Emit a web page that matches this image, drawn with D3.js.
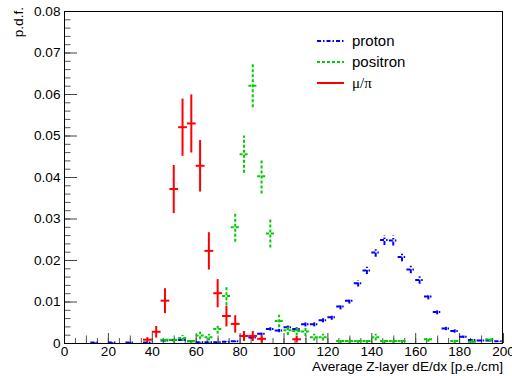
<!DOCTYPE html>
<html><head><meta charset="utf-8">
<script src="https://cdn.jsdelivr.net/npm/d3@7"></script>
<style>html,body{margin:0;padding:0;background:#fff;} svg{display:block;font-family:"Liberation Sans",Arial,sans-serif;}</style>
</head><body><svg id="c" width="512" height="376"></svg>
<script>
// ---- data ----
const xTickLabels = [0,20,40,60,80,100,120,140,160,180,200];
const yTickLabels = [0,0.01,0.02,0.03,0.04,0.05,0.06,0.07,0.08];
const seriesNames = ["proton","positron","\u03bc/\u03c0"];

const protonCenters = [14,22,30,38,46,50,54,58,62,66,70,74,78,82,86,90,94,98,102,106,110,114,118,122,126,130,134,138,142,146,150,154,158,162,166,170,174,178,182,186,190,194,198];
const protonValues  = [0.0001,0.0001,0.0001,0.0001,0.0006,0.0007,0.0007,0.0004,0.0002,0.0002,0.0002,0.0003,0.0004,0.0017,0.0013,0.0022,0.0034,0.0030,0.0038,0.0034,0.0045,0.0045,0.0055,0.0062,0.0088,0.0102,0.0144,0.0175,0.0218,0.0248,0.0247,0.0207,0.0177,0.0152,0.0112,0.0075,0.0035,0.0029,0.0015,0.0007,0.0006,0.0006,0.0004];
const protonErrors  = [0.0001,0.0001,0.0001,0.0001,0.0002,0.0002,0.0002,0.0002,0.0001,0.0001,0.0001,0.0001,0.0002,0.0003,0.0003,0.0003,0.0004,0.0004,0.0004,0.0004,0.0005,0.0005,0.0005,0.0006,0.0007,0.0007,0.0008,0.0009,0.0010,0.0012,0.0012,0.0010,0.0009,0.0009,0.0007,0.0006,0.0004,0.0004,0.0003,0.0002,0.0002,0.0002,0.0001];

const positronCenters = [46,50,54,58,62,66,70,74,78,82,86,90,94,98,102,106,110,114,118,126,130,134,138,142,146,150,154,166,178,186,194];
const positronValues  = [0.0008,0.0008,0.0012,0.0005,0.0018,0.0014,0.0034,0.0113,0.0279,0.0455,0.0620,0.0402,0.0264,0.0053,0.0031,0.0029,0.0028,0.0014,0.0014,0.0005,0.0005,0.0005,0.0005,0.0014,0.0005,0.0005,0.0005,0.0009,0.0005,0.0003,0.0009];
const positronErrors  = [0.0006,0.0006,0.0007,0.0005,0.0009,0.0008,0.0012,0.0022,0.0035,0.0045,0.0052,0.0042,0.0034,0.0015,0.0012,0.0011,0.0011,0.0008,0.0008,0.0005,0.0005,0.0005,0.0005,0.0008,0.0005,0.0005,0.0005,0.0006,0.0005,0.0004,0.0006];

const muPiCenters = [38,42,46,50,54,58,62,66,70,74,78,82,86,90,106];
const muPiValues  = [0.0008,0.0027,0.0102,0.0371,0.0520,0.0529,0.0427,0.0222,0.0120,0.0065,0.0046,0.0017,0.0017,0.0010,0.0009];
const muPiErrors  = [0.0006,0.0014,0.0030,0.0058,0.0069,0.0070,0.0062,0.0045,0.0034,0.0025,0.0021,0.0012,0.0012,0.0009,0.0008];

const binHalfWidth = 2;

// ---- layout ----
const W=512,H=376,L=64,R=503,T=11,B=343;
const x = d3.scaleLinear().domain([0,200]).range([L,R]);
const y = d3.scaleLinear().domain([0,0.08]).range([B,T]);
const svg = d3.select("#c");
svg.append("rect").attr("width",W).attr("height",H).attr("fill","#fff");

svg.append("defs").append("clipPath").attr("id","clip")
  .append("rect").attr("x",L).attr("y",T).attr("width",R-L).attr("height",B-T);

function axisLayer(axis, tx, ty, col){
  const g = svg.append("g").attr("transform",`translate(${tx},${ty})`).call(axis);
  g.select(".domain").remove();
  g.selectAll("text").attr("font-size",13.6).attr("font-family","Liberation Sans, Arial, sans-serif").attr("fill","#000");
  g.selectAll("line").attr("stroke",col||"#000");
  return g;
}
// x axis ticks
axisLayer(d3.axisBottom(x).tickValues(d3.range(0,201,5)).tickSize(-5).tickFormat(""),0,B,"#555");
axisLayer(d3.axisBottom(x).tickValues(d3.range(10,201,20)).tickSize(-7.5).tickFormat(""),0,B,"#555");
axisLayer(d3.axisBottom(x).tickValues(xTickLabels).tickSize(-10).tickPadding(3).tickFormat(d3.format("d")),0,B,"#444");
// y axis ticks
axisLayer(d3.axisLeft(y).tickValues(d3.range(0,41,1).map(i=>i*0.002)).tickSize(-6.5).tickFormat(""),L,0,"#555");
axisLayer(d3.axisLeft(y).tickValues(yTickLabels).tickSize(-13).tickPadding(3.5).tickFormat(d=>d===0?"0":d.toFixed(2)),L,0,"#444");

// frame
svg.append("rect").attr("x",L+0.5).attr("y",T+0.5).attr("width",R-L-1).attr("height",B-T)
  .attr("fill","none").attr("stroke","#000").attr("stroke-width",1);

// series
function drawSeries(centers, values, errors, color, dash, width){
  const g = svg.append("g").attr("clip-path","url(#clip)")
    .attr("stroke",color).attr("stroke-width",width).attr("fill","none");
  if(dash) g.attr("stroke-dasharray",dash);
  centers.forEach((c,i)=>{
    const v = values[i], e = errors[i];
    g.append("line").attr("x1",x(c-binHalfWidth)).attr("x2",x(c+binHalfWidth)).attr("y1",y(v)).attr("y2",y(v));
    g.append("line").attr("x1",x(c)).attr("x2",x(c)).attr("y1",y(Math.max(0,v-e))).attr("y2",y(v+e));
  });
}
const colors = ["#0000ff","#00cc00","#ff0000"];
const dashes = ["4,2,1.5,2","3,2",null];
drawSeries(protonCenters, protonValues, protonErrors, colors[0], dashes[0], 2);
drawSeries(positronCenters, positronValues, positronErrors, colors[1], dashes[1], 2);
drawSeries(muPiCenters, muPiValues, muPiErrors, colors[2], dashes[2], 2);

// legend
const leg = svg.append("g");
const rows = [41,62,83];
seriesNames.forEach((n,i)=>{
  const l = leg.append("line").attr("x1",317).attr("x2",344).attr("y1",rows[i]).attr("y2",rows[i])
    .attr("stroke",colors[i]).attr("stroke-width",2);
  if(dashes[i]) l.attr("stroke-dasharray",dashes[i]);
  leg.append("text").attr("x",352).attr("y",rows[i]+5).attr("font-size",15)
    .attr("font-family", i===2 ? "Liberation Serif, serif" : "Liberation Sans, Arial, sans-serif")
    .text(n);
});

// axis titles
svg.append("text").attr("x",R).attr("y",371).attr("text-anchor","end").attr("font-size",13.6).text("Average Z-layer dE/dx [p.e./cm]");
svg.append("text").attr("transform","translate(23,7) rotate(-90)").attr("text-anchor","end").attr("font-size",13.6).text("p.d.f.");
</script></body></html>
